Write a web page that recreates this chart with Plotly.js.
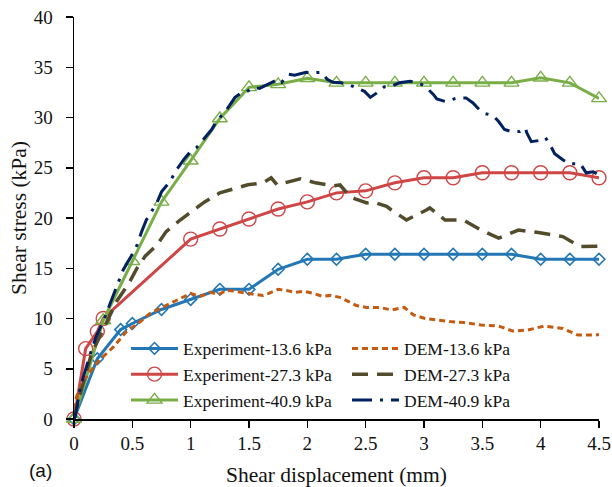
<!DOCTYPE html>
<html>
<head>
<meta charset="utf-8">
<script src="https://cdn.plot.ly/plotly-3.0.1.min.js"></script>
<style>
  html, body { margin: 0; padding: 0; background: #fff; }
  #chart { width: 612px; height: 487px; }
</style>
</head>
<body>
<div id="chart"></div>
<script>
// Shear displacement (mm) and shear stress (kPa) for each normal stress
const expX13 = [0, 0.2, 0.4, 0.5, 0.75, 1, 1.25, 1.5, 1.75, 2, 2.25, 2.5, 2.75, 3, 3.25, 3.5, 3.75, 4, 4.25, 4.5];
const expY13 = [0, 6.0, 8.9, 9.5, 10.9, 11.9, 12.9, 12.9, 14.9, 15.9, 15.9, 16.4, 16.4, 16.4, 16.4, 16.4, 16.4, 15.9, 15.9, 15.9];

const expX27 = [0, 0.1, 0.2, 0.25, 1, 1.25, 1.5, 1.75, 2, 2.25, 2.5, 2.75, 3, 3.25, 3.5, 3.75, 4, 4.25, 4.5];
const expY27 = [0, 7.0, 8.7, 10.0, 17.9, 18.9, 19.9, 20.9, 21.6, 22.5, 22.7, 23.5, 24.0, 24.0, 24.5, 24.5, 24.5, 24.5, 24.0];

const expX41 = [0, 0.25, 0.5, 0.75, 1, 1.25, 1.5, 1.75, 2, 2.25, 2.5, 2.75, 3, 3.25, 3.5, 3.75, 4, 4.25, 4.5];
const expY41 = [0, 9.8, 15.7, 21.6, 25.7, 29.9, 33.0, 33.3, 33.9, 33.45, 33.45, 33.45, 33.45, 33.45, 33.45, 33.45, 33.95, 33.45, 31.9];

const demX13 = [0, 0.02, 0.09, 0.18, 0.25, 0.34, 0.45, 0.57, 0.65, 0.77, 0.91, 1.0, 1.08, 1.17, 1.24, 1.31, 1.39, 1.47, 1.54, 1.62, 1.67, 1.75, 1.82, 1.89, 1.97, 2.05, 2.13, 2.2, 2.28, 2.35, 2.42, 2.51, 2.62, 2.72, 2.83, 2.91, 3.01, 3.12, 3.22, 3.34, 3.49, 3.64, 3.76, 3.89, 4.03, 4.19, 4.32, 4.46, 4.5];
const demY13 = [0, 2.2, 3.9, 5.4, 6.2, 7.2, 8.7, 9.7, 10.5, 11.2, 12.0, 12.5, 12.2, 12.6, 12.4, 12.8, 12.7, 12.5, 12.4, 12.3, 12.5, 12.9, 12.8, 12.6, 12.7, 12.5, 12.2, 12.3, 12.1, 11.7, 11.3, 11.1, 11.1, 10.85, 11.1, 10.35, 10.0, 9.85, 9.7, 9.6, 9.35, 9.25, 8.75, 8.85, 9.25, 9.0, 8.35, 8.35, 8.4];

const demX27 = [0, 0.07, 0.15, 0.22, 0.31, 0.37, 0.47, 0.54, 0.61, 0.71, 0.79, 0.91, 1.05, 1.12, 1.25, 1.31, 1.44, 1.49, 1.62, 1.69, 1.74, 1.89, 1.94, 2.07, 2.22, 2.28, 2.37, 2.41, 2.51, 2.56, 2.68, 2.72, 2.85, 3.02, 3.05, 3.18, 3.34, 3.36, 3.49, 3.64, 3.81, 3.98, 4.14, 4.19, 4.34, 4.5];
const demY27 = [0, 3.2, 6.5, 8.2, 10.2, 11.8, 13.5, 15.0, 16.2, 17.3, 18.65, 19.8, 21.0, 21.6, 22.5, 22.7, 23.1, 23.3, 23.5, 24.0, 23.3, 23.7, 23.9, 23.5, 23.2, 23.3, 22.1, 21.9, 21.5, 21.6, 21.15, 20.8, 19.8, 20.8, 21.0, 19.8, 19.8, 19.65, 18.8, 18.0, 18.8, 18.55, 18.3, 18.15, 17.15, 17.2];

const demX41 = [0, 0.01, 0.05, 0.08, 0.14, 0.19, 0.25, 0.31, 0.34, 0.38, 0.42, 0.49, 0.54, 0.58, 0.62, 0.71, 0.75, 0.82, 0.88, 0.94, 0.99, 1.05, 1.12, 1.18, 1.22, 1.31, 1.38, 1.44, 1.47, 1.54, 1.59, 1.66, 1.71, 1.75, 1.78, 1.84, 1.89, 1.95, 1.99, 2.05, 2.12, 2.17, 2.22, 2.29, 2.37, 2.42, 2.49, 2.54, 2.59, 2.66, 2.71, 2.79, 2.88, 2.95, 3.01, 3.08, 3.11, 3.18, 3.22, 3.29, 3.36, 3.42, 3.48, 3.52, 3.59, 3.64, 3.69, 3.75, 3.82, 3.87, 3.88, 3.92, 3.98, 4.04, 4.08, 4.12, 4.19, 4.24, 4.34, 4.39, 4.45, 4.48];
const demY41 = [0, 0.2, 2.9, 4.2, 6.5, 8.2, 9.7, 11.5, 12.5, 13.7, 14.8, 16.2, 17.3, 18.65, 19.8, 21.5, 22.6, 23.6, 24.8, 25.8, 26.5, 27.0, 28.0, 28.8, 29.6, 30.8, 32.0, 32.5, 32.5, 33.0, 32.9, 33.3, 33.6, 33.8, 33.5, 34.3, 34.2, 34.4, 34.5, 34.45, 34.5, 33.8, 33.5, 33.45, 33.2, 32.95, 32.6, 32.0, 32.4, 33.05, 33.05, 33.45, 33.6, 33.45, 33.1, 32.3, 31.85, 31.6, 31.7, 31.95, 31.95, 31.45, 30.7, 30.4, 30.2, 29.6, 28.8, 28.6, 28.6, 28.95, 28.5, 27.6, 27.7, 28.0, 27.3, 26.4, 25.8, 25.4, 25.4, 24.5, 24.6, 24.4];

const xTicks = [0, 0.5, 1, 1.5, 2, 2.5, 3, 3.5, 4, 4.5];
const yTicks = [0, 5, 10, 15, 20, 25, 30, 35, 40];

const serif = 'Liberation Serif, Times New Roman, serif';

const traces = [
  { x: expX13, y: expY13, name: 'Experiment-13.6 kPa', mode: 'lines+markers', legend: 'legend',
    line: { color: '#2377B5', width: 3 },
    marker: { symbol: 'diamond-open', size: 9, color: '#2377B5', line: { width: 1.6 } } },
  { x: expX27, y: expY27, name: 'Experiment-27.3 kPa', mode: 'lines+markers', legend: 'legend',
    line: { color: '#CF4646', width: 3 },
    marker: { symbol: 'circle-open', size: 14, color: '#CF4646', line: { width: 1.4 } } },
  { x: expX41, y: expY41, name: 'Experiment-40.9 kPa', mode: 'lines+markers', legend: 'legend',
    line: { color: '#79AE47', width: 3 },
    marker: { symbol: 'triangle-up-open', size: 13, color: '#79AE47', line: { width: 1.4 } } },
  { x: demX13, y: demY13, name: 'DEM-13.6 kPa', mode: 'lines', legend: 'legend2',
    line: { color: '#C55A11', width: 3, dash: '6px,4px' } },
  { x: demX27, y: demY27, name: 'DEM-27.3 kPa', mode: 'lines', legend: 'legend2',
    line: { color: '#524C2D', width: 3.5, dash: '16px,9px' } },
  { x: demX41, y: demY41, name: 'DEM-40.9 kPa', mode: 'lines', legend: 'legend2',
    line: { color: '#002060', width: 3, dash: '20px,8px,3px,8px' } }
];

traces.forEach(t => { t.cliponaxis = false; });

const legendCommon = {
  orientation: 'v', xanchor: 'left', yanchor: 'top',
  bgcolor: 'rgba(0,0,0,0)', borderwidth: 0,
  itemwidth: 47, tracegroupgap: 0,
  font: { family: serif, size: 17.5, color: '#111' }
};

const layout = {
  width: 612, height: 487,
  margin: { l: 74, r: 13, t: 17, b: 68 },
  paper_bgcolor: '#fff', plot_bgcolor: '#fff',
  showlegend: true,
  legend: Object.assign({}, legendCommon, { x: (126 - 74) / 525, y: (419 - 330.5) / 402 }),
  legend2: Object.assign({}, legendCommon, { x: (347 - 74) / 525, y: (419 - 330.5) / 402 }),
  xaxis: {
    range: [0, 4.5], tickvals: xTicks, ticktext: xTicks.map(String),
    showline: true, linecolor: '#000', linewidth: 1.5,
    ticks: 'outside', ticklen: 7, tickwidth: 1.5, tickcolor: '#000',
    showgrid: false, zeroline: false,
    tickfont: { family: serif, size: 19, color: '#111' },
    title: { text: 'Shear displacement (mm)', font: { family: serif, size: 21.5, color: '#111' }, standoff: 14 }
  },
  yaxis: {
    range: [0, 40], tickvals: yTicks, ticktext: yTicks.map(String),
    showline: true, linecolor: '#000', linewidth: 1.5,
    ticks: 'outside', ticklen: 7, tickwidth: 1.5, tickcolor: '#000',
    ticklabelstandoff: 9,
    showgrid: false, zeroline: false,
    tickfont: { family: serif, size: 19, color: '#111' },
    title: { text: 'Shear stress (kPa)', font: { family: serif, size: 21.5, color: '#111' }, standoff: 1 }
  },
  annotations: [{
    text: '(a)', xref: 'paper', yref: 'paper', x: (40 - 74) / 525, y: (419 - 470) / 402,
    xanchor: 'center', yanchor: 'middle', showarrow: false,
    font: { family: 'Liberation Sans, Arial, sans-serif', size: 19, color: '#111' }
  }]
};

Plotly.newPlot('chart', traces, layout, { displayModeBar: false, staticPlot: true });
</script>
</body>
</html>
